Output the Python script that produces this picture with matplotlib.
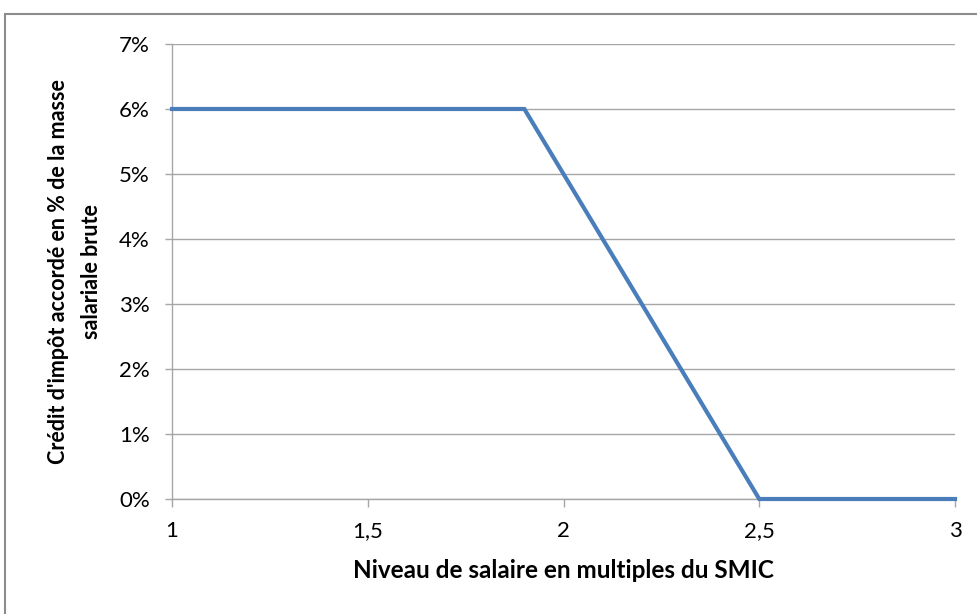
import matplotlib
matplotlib.use("Agg")
import matplotlib.pyplot as plt
from matplotlib.patches import Rectangle
from matplotlib.ticker import FuncFormatter

# data
smic_multiple = [1.0, 1.9, 2.5, 3.0]
credit_pct = [6.0, 6.0, 0.0, 0.0]
x_ticks = [1, 1.5, 2, 2.5, 3]
y_ticks = [0, 1, 2, 3, 4, 5, 6, 7]

plt.rcParams['font.family'] = ['Lato', 'DejaVu Sans']

fig = plt.figure(figsize=(9.78, 6.14), dpi=100)
W, H = 978, 614
ax = fig.add_axes([172 / W, 1 - 499 / H, (955 - 172) / W, (499 - 44) / H])

# outer frame of the chart (cropped on right and bottom)
fig.patches.append(Rectangle((5 / W, -0.1), 1.2, 1 - 14 / H + 0.1,
                             transform=fig.transFigure, fill=False,
                             edgecolor='#8c8c8c', linewidth=1.5))

grid_col = '#a6a6a6'
ax.plot(smic_multiple, credit_pct, color='#4a7ebb', linewidth=3.0,
        solid_joinstyle='miter', zorder=3, clip_on=False)

ax.set_xlim(1, 3)
ax.set_ylim(0, 7)
ax.set_xticks(x_ticks)
ax.set_yticks(y_ticks)
ax.xaxis.set_major_formatter(FuncFormatter(lambda v, p: ('%g' % v).replace('.', ',')))
ax.yaxis.set_major_formatter(FuncFormatter(lambda v, p: '%d%%' % v))
ax.grid(axis='y', color=grid_col, linewidth=1.0)
ax.set_axisbelow(True)

for s in ['top', 'right']:
    ax.spines[s].set_visible(False)
for s in ['left', 'bottom']:
    ax.spines[s].set_color(grid_col)
    ax.spines[s].set_linewidth(1.0)

ax.tick_params(axis='both', colors=grid_col, width=1.0,
               labelcolor='black', labelsize=16)
ax.tick_params(axis='x', length=6, pad=10)
ax.tick_params(axis='y', length=5, pad=11)

ax.set_xlabel('Niveau de salaire en multiples du SMIC', fontsize=17.5,
              fontweight='bold', labelpad=13)
ax.set_ylabel("Crédit d'impôt accordé en % de la masse\nsalariale brute",
              fontsize=15.5, fontweight='bold', labelpad=12, linespacing=1.7)

fig.savefig('out.png', dpi=100)
